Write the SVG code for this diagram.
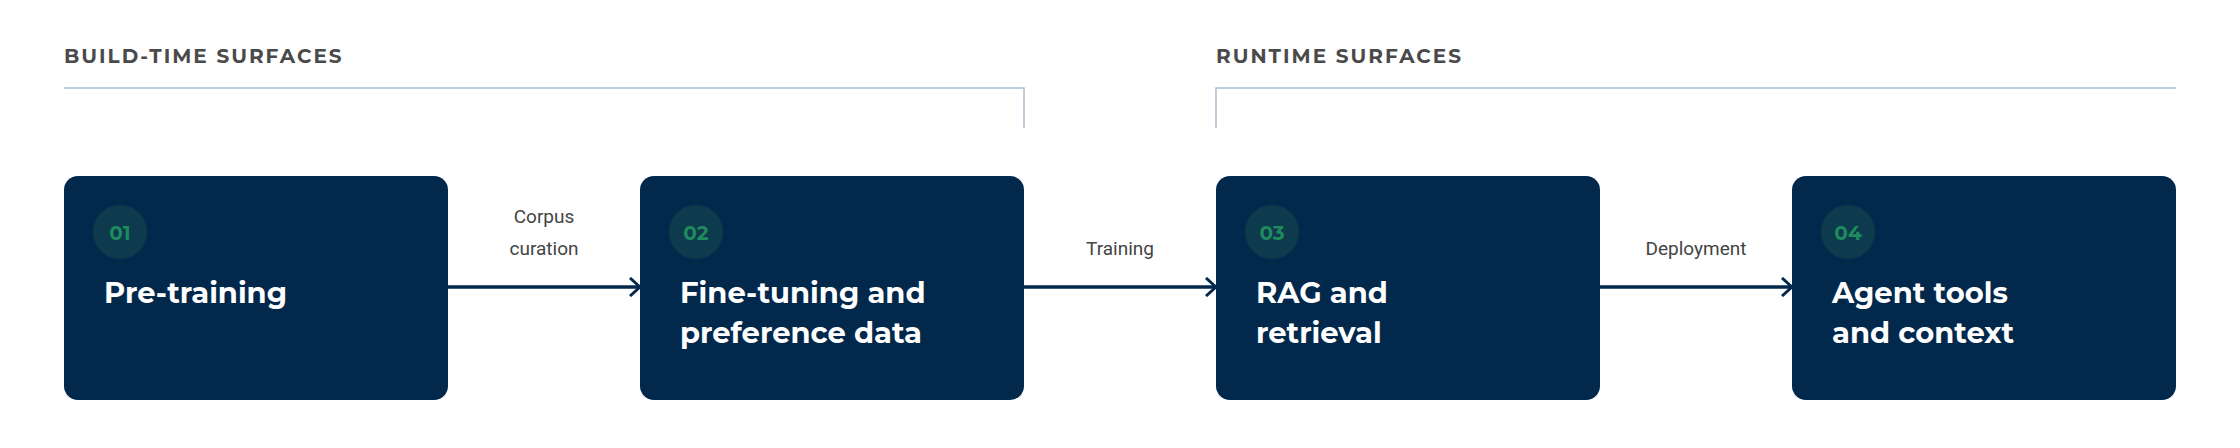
<svg xmlns="http://www.w3.org/2000/svg" width="2240" height="448" viewBox="0 0 2240 448">
<style>
.hdr{font-family:Montserrat,Inter,"Liberation Sans",sans-serif;font-weight:700;font-size:20px;letter-spacing:2px;fill:#4a4a4a}
.br{fill:none;stroke:#a9bfd3;stroke-width:1.5}
.box{fill:#02284c}
.num{fill:#0d3b4d}
.numt{font-family:Montserrat,Inter,"Liberation Sans",sans-serif;font-weight:700;font-size:20px;fill:#1e8a5e;text-anchor:middle}
.ttl{font-family:Montserrat,Inter,"Liberation Sans",sans-serif;font-weight:700;font-size:29px;fill:#ffffff}
.lbl{font-family:Roboto,"Liberation Sans",sans-serif;font-size:19px;fill:#444;text-anchor:middle}
.ar{stroke:#02284c;stroke-width:3.5;fill:none}
</style>
<defs><marker id="ah" viewBox="0 0 12 20" refX="11" refY="10" markerWidth="12" markerHeight="20" markerUnits="userSpaceOnUse" orient="auto"><path d="M1,1 L11,10 L1,19" fill="none" stroke="#02284c" stroke-width="3"/></marker></defs>
<g id="headers">
<text class="hdr" x="64" y="63">BUILD-TIME SURFACES</text>
<path class="br" d="M64,88 H1024 V128"/>
<text class="hdr" x="1216" y="63">RUNTIME SURFACES</text>
<path class="br" d="M1216,128 V88 H2176"/>
</g>
<g id="connectors">
<line class="ar" x1="448" y1="287" x2="640" y2="287" marker-end="url(#ah)"/>
<line class="ar" x1="1024" y1="287" x2="1216" y2="287" marker-end="url(#ah)"/>
<line class="ar" x1="1600" y1="287" x2="1792" y2="287" marker-end="url(#ah)"/>
<text class="lbl" x="544" y="223">Corpus</text>
<text class="lbl" x="544" y="255">curation</text>
<text class="lbl" x="1120" y="255">Training</text>
<text class="lbl" x="1696" y="255">Deployment</text>
</g>
<g id="n1"><rect class="box" x="64" y="176" width="384" height="224" rx="14"/><circle class="num" cx="120" cy="232" r="27"/><text class="numt" x="120" y="240">01</text><text class="ttl" x="104" y="303">Pre-training</text></g>
<g id="n2"><rect class="box" x="640" y="176" width="384" height="224" rx="14"/><circle class="num" cx="696" cy="232" r="27"/><text class="numt" x="696" y="240">02</text><text class="ttl" x="680" y="303">Fine-tuning and</text><text class="ttl" x="680" y="343">preference data</text></g>
<g id="n3"><rect class="box" x="1216" y="176" width="384" height="224" rx="14"/><circle class="num" cx="1272" cy="232" r="27"/><text class="numt" x="1272" y="240">03</text><text class="ttl" x="1256" y="303">RAG and</text><text class="ttl" x="1256" y="343">retrieval</text></g>
<g id="n4"><rect class="box" x="1792" y="176" width="384" height="224" rx="14"/><circle class="num" cx="1848" cy="232" r="27"/><text class="numt" x="1848" y="240">04</text><text class="ttl" x="1832" y="303">Agent tools</text><text class="ttl" x="1832" y="343">and context</text></g>
</svg>
